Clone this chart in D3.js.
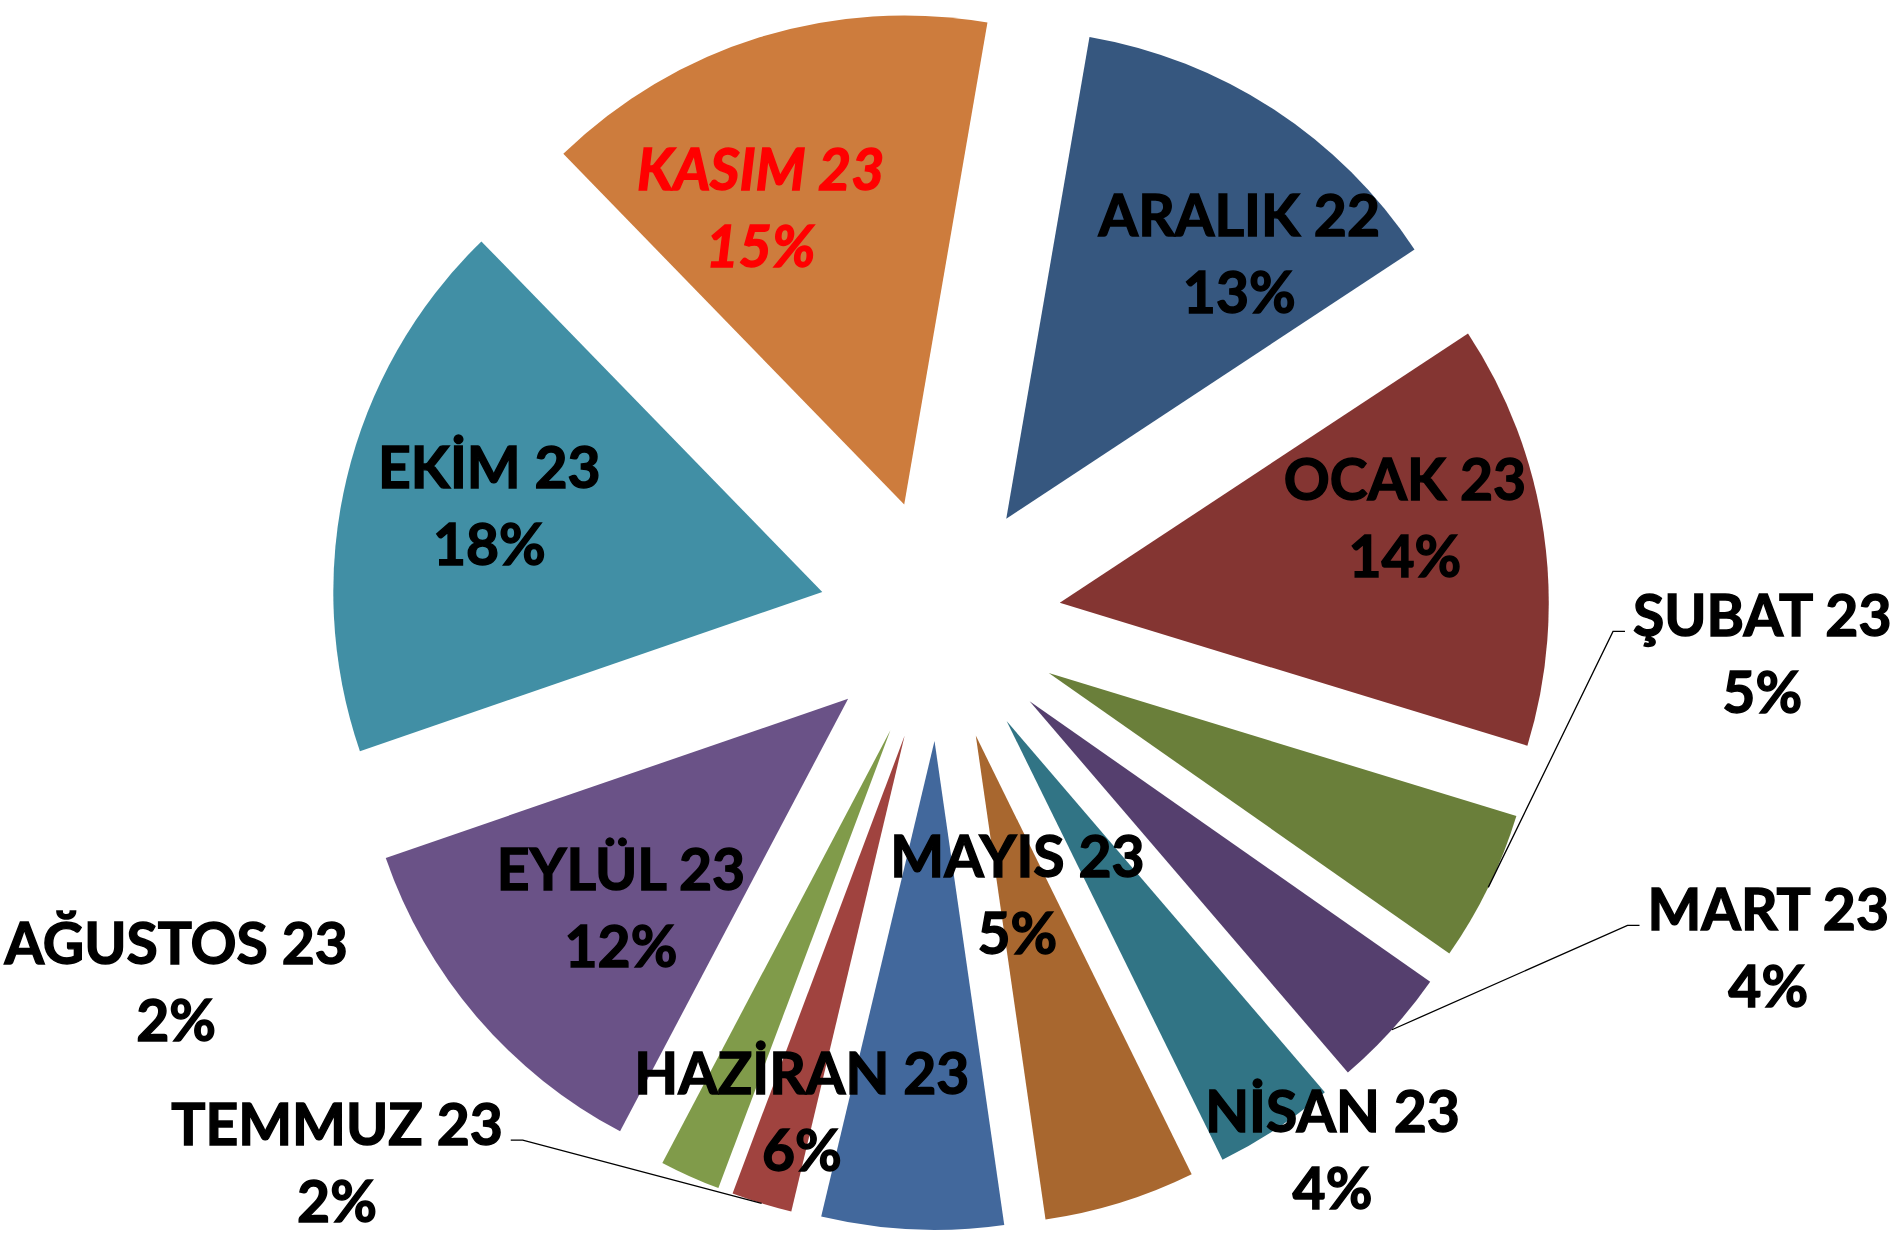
<!DOCTYPE html>
<html>
<head>
<meta charset="utf-8">
<script src="https://cdn.jsdelivr.net/npm/d3@7"></script>
<style>
  html, body { margin: 0; padding: 0; background: #fff; overflow: hidden; }
  text { font-family: Lato, "Open Sans", sans-serif; font-weight: bold; }
</style>
</head>
<body>
<div id="chart"></div>
<script>
// months, clockwise from the top
var months = ["ARALIK 22", "OCAK 23", "ŞUBAT 23", "MART 23", "NİSAN 23", "MAYIS 23",
  "HAZİRAN 23", "TEMMUZ 23", "AĞUSTOS 23", "EYLÜL 23", "EKİM 23", "KASIM 23"];
var shares = [13, 14, 5, 4, 4, 5, 6, 2, 2, 12, 18, 15];
var colors = ["#36577f", "#843532", "#6a7f3a", "#553f6e", "#317485", "#a8672f",
  "#42689c", "#a0433f", "#809b4a", "#6a5287", "#418fa5", "#cd7c3d"];
// label nudges (px) from the default label spot of each slice
var labelNudge = [[67, -12], [45, -42], [441, -152], [514, 43], [159, 175], [-48, -131],
  [-119, 68], [-479, 137], [-590, -25], [3, 11], [-38, -16], [-54, -7]];
var withLeader = ["ŞUBAT 23", "MART 23", "TEMMUZ 23"];
var highlight = "KASIM 23";

function pieView() {
  var width = 1899, height = 1234;
  var cx = 940, cy = 620, R = 489, explode = 121;
  var start = 9.8 * Math.PI / 180;
  var lineGap = 77;

  var svg = d3.select("#chart").append("svg")
    .attr("width", width)
    .attr("height", height);
  var g = svg.append("g")
    .attr("transform", "translate(" + cx + "," + cy + ")");

  var pie = d3.pie()
    .sort(null)
    .value(function(d) { return d; })
    .startAngle(start)
    .endAngle(start + 2 * Math.PI);
  var arcs = pie(shares);
  var arc = d3.arc().innerRadius(0).outerRadius(R);

  function polar(a, r) {
    return [r * Math.sin(a), -r * Math.cos(a)];
  }
  function mid(d) { return (d.startAngle + d.endAngle) / 2; }

  /* slices, each pushed out along its middle angle */
  g.selectAll(".slice")
    .data(arcs)
    .enter()
    .append("path")
    .attr("class", "slice")
    .attr("transform", function(d) {
      var p = polar(mid(d), explode);
      return "translate(" + p[0] + "," + p[1] + ")";
    })
    .attr("d", arc)
    .attr("fill", function(d, i) { return colors[i]; });

  /* labels */
  var lab = g.selectAll(".lab")
    .data(arcs)
    .enter()
    .append("text")
    .attr("class", "lab")
    .attr("text-anchor", "middle")
    .style("font-size", "57px")
    .style("font-style", function(d, i) { return months[i] == highlight ? "italic" : "normal"; })
    .attr("fill", function(d, i) { return months[i] == highlight ? "#ff0000" : "#000"; })
    .attr("stroke", function(d, i) { return months[i] == highlight ? "#ff0000" : "#000"; })
    .attr("stroke-width", 1.4)
    .each(function(d, i) {
      var p = polar(mid(d), explode + 0.62 * R);
      d.lx = p[0] + labelNudge[i][0];
      d.ly = p[1] + labelNudge[i][1];
    });
  lab.append("tspan")
    .attr("x", function(d) { return d.lx; })
    .attr("y", function(d) { return d.ly - lineGap / 2 + 21; })
    .text(function(d, i) { return months[i]; });
  lab.append("tspan")
    .attr("x", function(d) { return d.lx; })
    .attr("y", function(d) { return d.ly + lineGap / 2 + 21; })
    .text(function(d, i) { return d.data + "%"; });

  /* leader lines for the labels sitting outside */
  lab.each(function(d, i) {
    if (withLeader.indexOf(months[i]) < 0) return;
    var first = this.firstChild.getBBox();
    var p = polar(mid(d), explode + R);
    var base = d.ly - lineGap / 2 + 21 - 5;
    var right = d.lx > p[0];
    var edge = right ? first.x - 8 : first.x + first.width + 8;
    var elbow = right ? edge - 12 : edge + 12;
    g.append("path")
      .attr("d", "M" + p[0] + "," + p[1] + "L" + elbow + "," + base + "L" + edge + "," + base)
      .attr("fill", "none")
      .attr("stroke", "#000")
      .attr("stroke-width", 1.3);
  });
}
pieView();
</script>
</body>
</html>
